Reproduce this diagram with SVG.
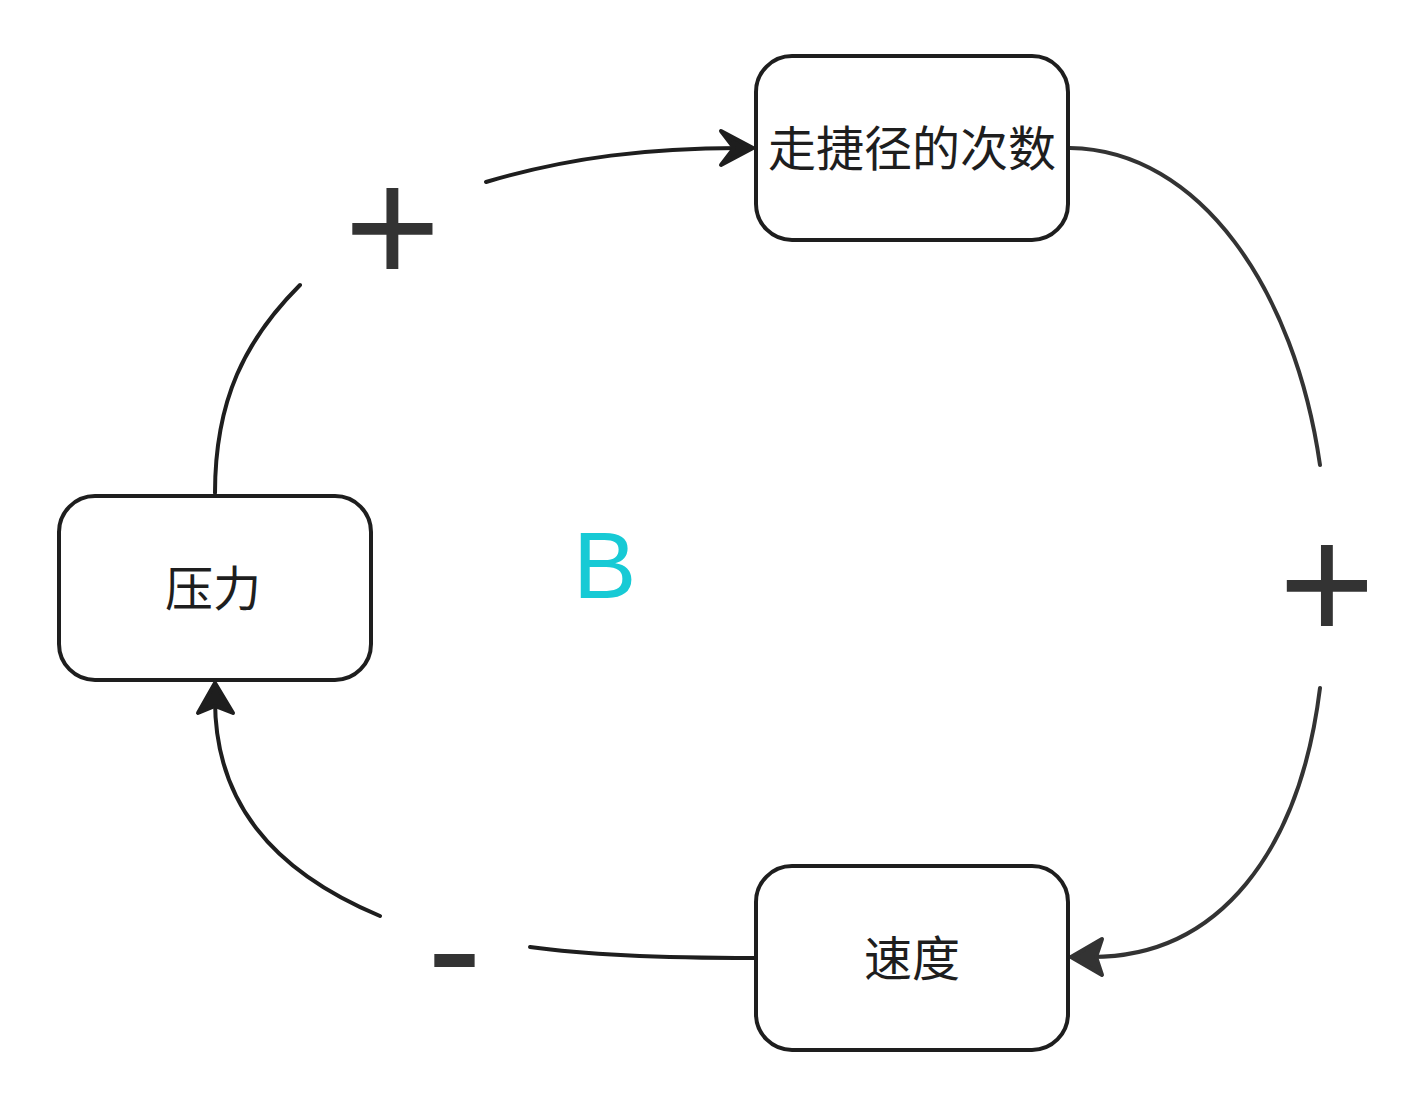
<svg xmlns="http://www.w3.org/2000/svg" width="1420" height="1104" viewBox="0 0 1420 1104">
<style>
.box{fill:#fff;stroke:#1e1e1e;stroke-width:4}
.lbl{font-family:"Noto Sans CJK SC","Noto Sans",sans-serif;font-size:48px;fill:#1e1e1e;text-anchor:middle;dominant-baseline:central}
.ln{fill:none;stroke-width:4;stroke-linecap:round}
.sign{font-family:"Liberation Sans",Arial,sans-serif;font-size:165px;fill:#333;text-anchor:middle}
.ah{stroke-width:4;stroke-linejoin:round}
</style>
<rect width="1420" height="1104" fill="#fff"/>
<g id="connectors">
  <path class="ln" stroke="#1e1e1e" d="M215,493 C215,400 245,340 300,285"/>
  <path class="ln" stroke="#1e1e1e" d="M486,182 C570,157 650,148 740,148"/>
  <polygon class="ah" fill="#1e1e1e" stroke="#1e1e1e" points="753,148 721,131 734,148 721,165"/>
  <path class="ln" stroke="#333" d="M1070,148 C1200,150 1295,290 1320,465"/>
  <path class="ln" stroke="#333" d="M1320,688 C1300,850 1220,958 1090,957"/>
  <polygon class="ah" fill="#333" stroke="#333" points="1071,957 1102,939 1096,957 1102,975"/>
  <path class="ln" stroke="#1e1e1e" d="M754,958 C650,958 580,954 530,947"/>
  <path class="ln" stroke="#1e1e1e" d="M380,916 C270,870 215,800 215,700"/>
  <polygon class="ah" fill="#1e1e1e" stroke="#1e1e1e" points="215,683 198,713 215,706 233,713"/>
</g>
<g id="node-shortcut">
  <rect class="box" x="756" y="56" width="312" height="184" rx="36"/>
  <text class="lbl" x="912" y="145">走捷径的次数</text>
</g>
<g id="node-pressure">
  <rect class="box" x="59" y="496" width="312" height="184" rx="36"/>
  <text class="lbl" x="213" y="585">压力</text>
</g>
<g id="node-speed">
  <rect class="box" x="756" y="866" width="312" height="184" rx="36"/>
  <text class="lbl" x="912" y="955">速度</text>
</g>
<g id="labels">
  <text class="sign" x="392.5" y="284">+</text>
  <text class="sign" x="1327" y="641">+</text>
  <text class="sign" x="454.5" y="1004">-</text>
  <text x="573" y="598" font-family="Liberation Sans,Arial,sans-serif" font-size="95" fill="#17cad5">B</text>
</g>
</svg>
